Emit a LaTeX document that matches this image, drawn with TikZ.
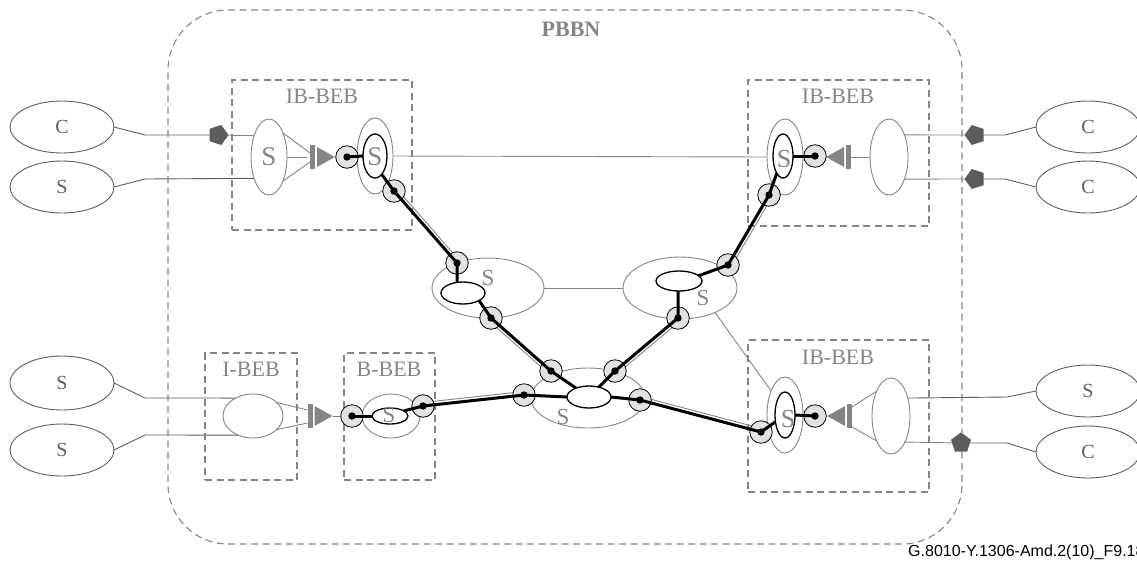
\documentclass[tikz,border=0pt]{standalone}
\usepackage{fontspec}
\setmainfont{Liberation Serif}
\newfontfamily\footfont{Liberation Sans}
\usetikzlibrary{shapes.geometric,calc}
\definecolor{lg}{HTML}{858585}
\definecolor{dg}{HTML}{5E5E5E}
\definecolor{cfill}{HTML}{E2E2E2}
\definecolor{pentc}{HTML}{5C5C5C}
\pgfdeclarelayer{back}
\pgfdeclarelayer{front}
\pgfsetlayers{back,main,front}
\tikzset{
  adapt/.pic={
    \begin{scope}[xscale=#1]
      \fill[lg] (-12.5,-12) rectangle (-7.5,12);
      \fill[lg] (-5.5,-10) -- (-5.5,10) -- (12.5,0) -- cycle;
      \coordinate (-in) at (-12.5,0);
      \coordinate (-out) at (12.5,0);
    \end{scope}
  }
}
\begin{document}
\begin{tikzpicture}[x=1pt,y=-1pt,
  gl/.style={draw=lg, line width=0.9pt},
  dl/.style={draw=dg, line width=0.9pt},
  bl/.style={draw=black, line width=3pt, line join=round},
  ell/.style={ellipse, draw=lg, line width=0.9pt, inner sep=0, outer sep=0},
  xell/.style={ellipse, draw=dg, line width=0.9pt, inner sep=0, outer sep=0,
    text=dg, font=\fontsize{20}{24}\selectfont},
  bell/.style={ellipse, draw=black, line width=1.3pt, inner sep=0, outer sep=0},
  circ/.style={circle, draw=black, fill=cfill, line width=0.8pt, minimum size=22.5,
    inner sep=0, outer sep=0},
  pent/.style={regular polygon, regular polygon sides=5, fill=pentc, minimum size=21,
    inner sep=0, outer sep=0},
  box/.style={rectangle, draw=lg, line width=1.1pt, dash pattern=on 7pt off 4.5pt, inner sep=0},
  boxlab/.style={text=lg, font=\fontsize{22}{26}\selectfont, inner sep=0},
  slab/.style={text=lg, inner sep=0}
]
\clip (0,0) rectangle (1137,566);

% PBBN domain
\node[draw=lg, line width=1.1pt, dash pattern=on 7pt off 4.5pt, rounded corners=60pt,
  minimum width=794, minimum height=534, inner sep=0] (pbbn) at (565,277) {};
\node[text=lg, font=\bfseries\fontsize{22}{26}\selectfont, inner sep=0] (pbbnlab) at (571,29) {PBBN};

% boxes
\node[box, minimum width=180, minimum height=150] (boxTL) at (322,155) {};
\node[box, minimum width=181, minimum height=146] (boxTR) at (838.5,153) {};
\node[box, minimum width=181, minimum height=152] (boxBR) at (838.5,416) {};
\node[box, minimum width=92, minimum height=127] (boxIB) at (251,416.5) {};
\node[box, minimum width=91, minimum height=127] (boxBB) at (389.5,416.5) {};
\node[boxlab] (labTL) at (322,96) {IB-BEB};
\node[boxlab] (labTR) at (838,96) {IB-BEB};
\node[boxlab] (labBR) at (838,357) {IB-BEB};
\node[boxlab] (labIB) at (251,369) {I-BEB};
\node[boxlab] (labBB) at (389,369) {B-BEB};

% external ellipses
\node[xell, minimum width=104, minimum height=52] (extC1) at (62,127) {C};
\node[xell, minimum width=104, minimum height=52] (extS1) at (62,187) {S};
\node[xell, minimum width=104, minimum height=54] (extS2) at (62,383) {S};
\node[xell, minimum width=104, minimum height=52] (extS3) at (62,450) {S};
\node[xell, minimum width=104, minimum height=52] (extC2) at (1088,127) {C};
\node[xell, minimum width=104, minimum height=52] (extC3) at (1088,187) {C};
\node[xell, minimum width=104, minimum height=52] (extS4) at (1088,391) {S};
\node[xell, minimum width=104, minimum height=52] (extC4) at (1088,452) {C};

% pentagons
\node[pent, shape border rotate=-90] (pTL) at (218,135) {};
\node[pent, shape border rotate=90] (pTR1) at (975,135) {};
\node[pent, shape border rotate=90] (pTR2) at (975,179) {};
\node[pent] (pBR) at (961,443) {};

% adapters
\pic (aTL) at (322.5,157) {adapt=1};
\pic (aTR) at (838.5,157) {adapt=-1};
\pic (aIB) at (320,416) {adapt=1};
\pic (aBR) at (839.5,416) {adapt=-1};

% gray ellipses
\node[ell, minimum width=36, minimum height=76] (sTLa) at (269,157) {};
\node[ell, minimum width=36, minimum height=76] (oTL) at (375,156) {};
\node[ell, minimum width=36, minimum height=76] (oTR) at (785,157) {};
\node[ell, minimum width=38, minimum height=76] (eTR) at (889,157) {};
\node[ell, minimum width=112, minimum height=60] (oML) at (488,288) {};
\node[ell, minimum width=114, minimum height=62] (oMR) at (680,288) {};
\node[ell, minimum width=114, minimum height=60] (oBC) at (588,398) {};
\node[ell, minimum width=60, minimum height=44] (eIB) at (253,416) {};
\node[ell, minimum width=58, minimum height=44] (oBB) at (391,416) {};
\node[ell, minimum width=36, minimum height=76] (oBR) at (785,415) {};
\node[ell, minimum width=38, minimum height=76] (eBR) at (891,416) {};

% black ellipses
\node[bell, minimum width=24, minimum height=44] (bTL) at (375,156) {};
\node[bell, minimum width=20, minimum height=44] (bTR) at (783,156) {};
\node[bell, minimum width=44, minimum height=22] (bML) at (463,293) {};
\node[bell, minimum width=46, minimum height=20] (bMR) at (679,281) {};
\node[bell, minimum width=44, minimum height=22] (bBC) at (589,397) {};
\node[bell, minimum width=36, minimum height=16] (bBB) at (390,416) {};
\node[bell, minimum width=20, minimum height=46] (bBR) at (785,415) {};

% S labels
\node[slab, font=\fontsize{27}{30}\selectfont] (lsTLa) at (269,157) {S};
\node[slab, font=\fontsize{27}{30}\selectfont] (lsTL) at (375,157) {S};
\node[slab, font=\fontsize{26}{30}\selectfont] (lsTR) at (784,159) {S};
\node[slab, font=\fontsize{26}{30}\selectfont] (lsBR) at (788,419) {S};
\node[slab, font=\fontsize{23}{26}\selectfont] (lsML) at (488,278) {S};
\node[slab, font=\fontsize{23}{26}\selectfont] (lsMR) at (703,298) {S};
\node[slab, font=\fontsize{23}{26}\selectfont] (lsBC) at (563,417) {S};
\node[slab, font=\fontsize{23}{26}\selectfont] (lsBB) at (389,415) {S};

% circles
\node[circ] (cTL1) at (347,157) {};
\node[circ] (cTL2) at (394,191) {};
\node[circ] (cML1) at (457,263) {};
\node[circ] (cML2) at (491,318) {};
\node[circ] (cTR1) at (815,156) {};
\node[circ] (cTR2) at (769,195) {};
\node[circ] (cMR1) at (728,265) {};
\node[circ] (cMR2) at (678,318) {};
\node[circ] (cBC1) at (551,371) {};
\node[circ] (cBC2) at (615,371) {};
\node[circ] (cBC3) at (524,395) {};
\node[circ] (cBC4) at (640,400) {};
\node[circ] (cBB1) at (352,416) {};
\node[circ] (cBB2) at (423,406) {};
\node[circ] (cBR1) at (815,416) {};
\node[circ] (cBR2) at (761,432) {};

% footer
\node[anchor=base west, inner sep=0, font=\footfont\fontsize{16}{19}\selectfont] (foot) at (908,556) {G.8010-Y.1306-Amd.2(10)\_F9.18};

\begin{pgfonlayer}{back}
  \draw[dl] (extC1.east) -- (145,135) -- (pTL);
  \draw[gl] (pTL) -- (sTLa.125);
  \draw[dl] (extS1.east) -- (145,179) -- (sTLa.-125);
  \draw[gl] (sTLa.60) -- ($(aTL-in)+(0,-4)$);
  \draw[gl] (sTLa.east) -- ($(aTL-in)+(-3,0)$);
  \draw[gl] (sTLa.-60) -- ($(aTL-in)+(0,5)$);
  \draw[gl] (oTL.east) -- (oTR.west);
  \draw[gl] (aTR-in) -- (eTR.west);
  \draw[gl] (eTR.55) -- (pTR1);
  \draw[dl] (pTR1) -- (1005,135) -- (extC2.west);
  \draw[gl] (eTR.-55) -- (pTR2);
  \draw[dl] (pTR2) -- (1005,179) -- (extC3.west);
  \draw[dl] (extS2.east) -- (145,398) -- (eIB.134);
  \draw[dl] (extS3.east) -- (145,435) -- (eIB.-128);
  \draw[gl] (eIB.30) -- ($(aIB-in)+(0,-6)$);
  \draw[gl] (eIB.-30) -- ($(aIB-in)+(0,7)$);
  \draw[gl] (aIB-out) -- (cBB1);
  \draw[gl] (oML.east) -- (oMR.west);
  \draw[gl] (oMR.-35) -- (oBR.120);
  \draw[gl] ($(aBR-in)+(0,-9)$) -- (eBR.120);
  \draw[gl] ($(aBR-in)+(0,11)$) -- (eBR.-120);
  \draw[dl] (eBR.47) -- (1007,397) -- (extS4.west);
  \draw[gl] (eBR.-62) -- (pBR);
  \draw[dl] (pBR) -- (1007,443) -- (extC4.west);
  \draw[gl] ([shift={(2.6,-2.3)}]cTL2.center) -- ([shift={(2.6,-2.3)}]cML1.center);
  \draw[gl] ([shift={(-2.3,2.6)}]cML2.center) -- ([shift={(-2.3,2.6)}]cBC1.center);
  \draw[gl] ([shift={(2.2,2.7)}]cBC2.center) -- ([shift={(2.2,2.7)}]cMR2.center);
  \draw[gl] ([shift={(3.0,1.8)}]cMR1.center) -- ([shift={(3.0,1.8)}]cTR2.center);
  \draw[gl] ([shift={(-0.35,-3.5)}]cBB2.center) -- ([shift={(-0.35,-3.5)}]cBC3.center);
  \draw[gl] ([shift={(0.9,-3.4)}]cBC4.center) -- ([shift={(0.9,-3.4)}]cBR2.center);
\end{pgfonlayer}

\begin{pgfonlayer}{front}
  \draw[bl] (cTL1.center) -- (bTL.west);
  \draw[bl] (bTL.-70) -- (cTL2.center) -- (cML1.center) -- (cML1.center |- bML.north);
  \draw[bl] (bML.-25) -- (cML2.center) -- (cBC1.center) -- (bBC);
  \draw[bl] (bBC) -- (cBC2.center) -- (cMR2.center) -- (cMR2.center |- bMR.south);
  \draw[bl] (bMR.15) -- (cMR1.center) -- (cTR2.center) -- (bTR);
  \draw[bl] (cTR1.center) -- (bTR.east);
  \draw[bl] (cBB1.center) -- (bBB.west);
  \draw[bl] (bBB.20) -- (cBB2.center) -- (cBC3.center) -- (bBC.west);
  \draw[bl] (bBC.east) -- (cBC4.center) -- (cBR2.center) -- (bBR);
  \draw[bl] (cBR1.center) -- (bBR.east);
  \foreach \c in {cTL1,cTL2,cML1,cML2,cTR1,cTR2,cMR1,cMR2,cBC1,cBC2,cBC3,cBC4,cBB1,cBB2,cBR1,cBR2}
    \fill[black] (\c.center) circle (3.7pt);
\end{pgfonlayer}
\end{tikzpicture}
\end{document}
